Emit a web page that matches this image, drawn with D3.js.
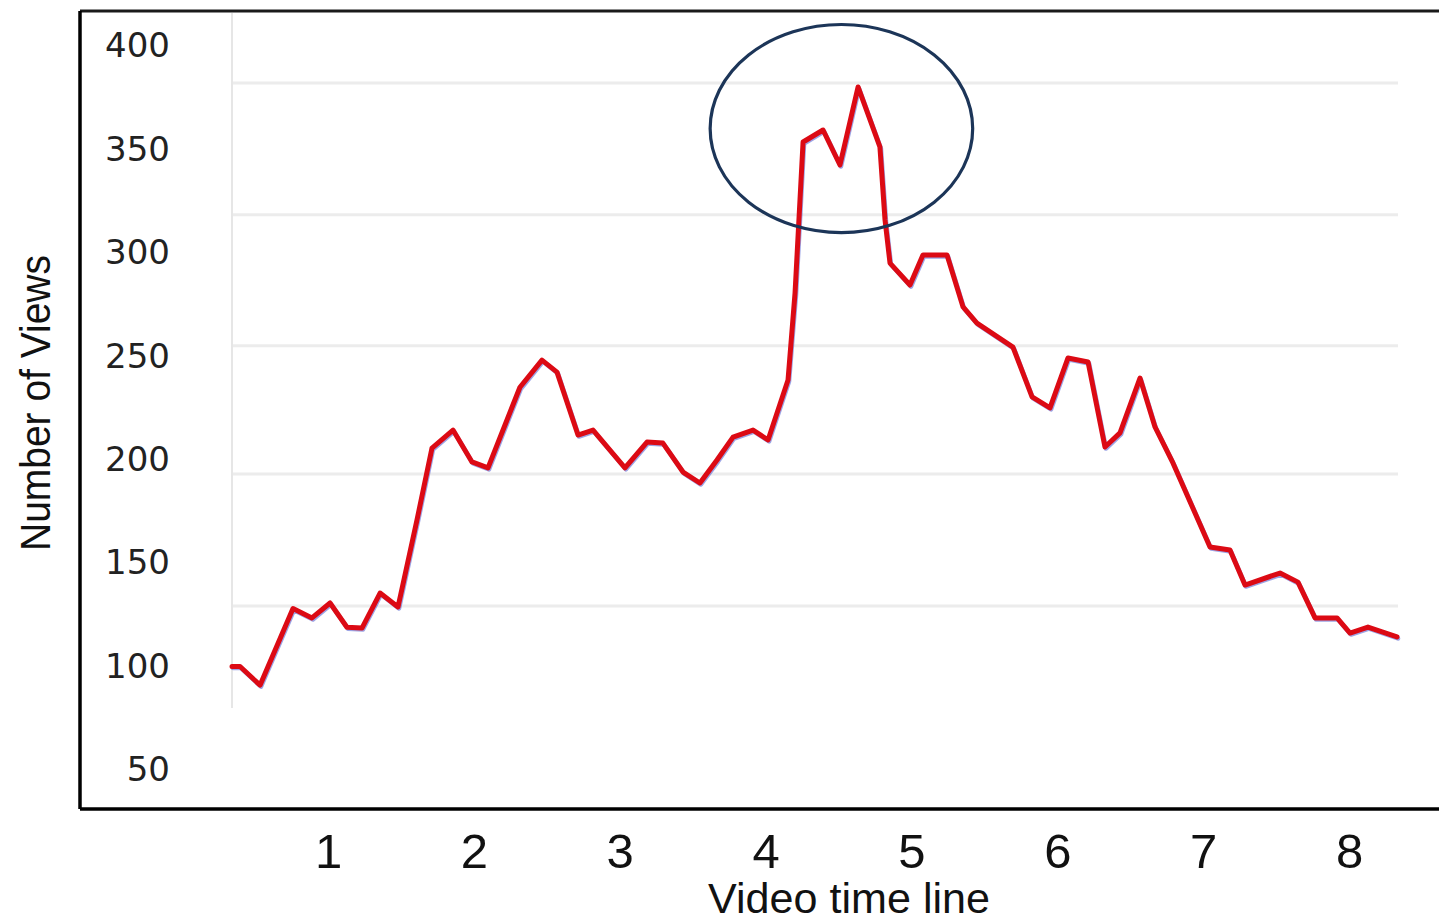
<!DOCTYPE html>
<html>
<head>
<meta charset="utf-8">
<script src="https://cdn.jsdelivr.net/npm/d3@7"></script>
<style>
  html, body { margin: 0; padding: 0; background: #fff; }
  svg { display: block; }
</style>
</head>
<body>
<svg id="chart" width="1439" height="923"></svg>
<script>
// ---- data ----
const timeValues = [0.342,0.397,0.534,0.760,0.890,1.014,1.130,1.233,1.357,1.480,1.610,1.713,1.857,1.987,2.097,2.316,2.467,2.570,2.714,2.817,3.036,3.187,3.296,3.434,3.550,3.667,3.777,3.914,4.017,4.154,4.202,4.257,4.394,4.510,4.634,4.784,4.819,4.853,4.990,5.079,5.244,5.354,5.449,5.696,5.827,5.950,6.073,6.211,6.327,6.430,6.567,6.670,6.793,7.047,7.184,7.287,7.527,7.650,7.767,7.918,8.007,8.130,8.329];
const viewValues = [100,100,91,128,123.5,130.7,119,118.6,135.5,128.8,170.8,205.6,214.3,198.9,196,235,248.1,242.3,211.9,214.3,196,208.5,208,194,188.7,199.8,210.9,214.3,209.5,238.5,280.5,353.5,359.3,342.4,380.1,351.1,315.8,295,284.4,298.9,298.9,273.8,266,254.4,230.3,225,249.1,247.2,206.1,212.9,239.4,215.8,198.4,157.8,156.3,139.4,145.2,140.8,123.5,123.5,116.2,119.1,114.3];
const yTickLabels = [50,100,150,200,250,300,350,400];
const xTickLabels = [1,2,3,4,5,6,7,8];
const gridValues = [382,318.3,255,193,129.3];
const highlight = { t: 4.52, v: 360, dt: 0.9, dv: 50.3 };
const xTitle = "Video time line";
const yTitle = "Number of Views";

// ---- layout ----
const svg = d3.select("#chart");
const x = d3.scaleLinear().domain([1, 8]).range([328, 1349]);
const y = d3.scaleLinear().domain([50, 400]).range([770, 45.8]);

const boxLeft = 80, boxTop = 11, boxBottom = 809, boxRight = 1439;
const plotLeft = x(0.342), plotRight = 1398;

// gridlines
svg.append("g").selectAll("line").data(gridValues).join("line")
  .attr("x1", plotLeft).attr("x2", plotRight)
  .attr("y1", d => y(d)).attr("y2", d => y(d))
  .attr("stroke", "#ececec").attr("stroke-width", 3);

// original inner axis line
svg.append("line")
  .attr("x1", plotLeft).attr("x2", plotLeft)
  .attr("y1", boxTop + 2).attr("y2", y(80))
  .attr("stroke", "#e6e6e6").attr("stroke-width", 2);

// frame
svg.append("line").attr("x1", boxLeft).attr("x2", boxRight).attr("y1", boxTop).attr("y2", boxTop)
  .attr("stroke", "#1a1a1a").attr("stroke-width", 3);
svg.append("line").attr("x1", boxLeft).attr("x2", boxLeft).attr("y1", boxTop).attr("y2", boxBottom)
  .attr("stroke", "#000").attr("stroke-width", 3.5);
svg.append("line").attr("x1", boxLeft).attr("x2", boxRight).attr("y1", boxBottom).attr("y2", boxBottom)
  .attr("stroke", "#000").attr("stroke-width", 3.5);

// y axis labels
const yAxis = d3.axisLeft(y).tickValues(yTickLabels).tickSize(0).tickPadding(0);
const gy = svg.append("g").attr("transform", "translate(170,0)").call(yAxis);
gy.select(".domain").remove();
gy.selectAll("text")
  .attr("font-family", "DejaVu Sans, Verdana, sans-serif")
  .attr("font-size", 34).attr("fill", "#222");

// x axis labels
const xAxis = d3.axisBottom(x).tickValues(xTickLabels).tickSize(0).tickPadding(0).tickFormat(d3.format("d"));
const gx = svg.append("g").attr("transform", "translate(0,832)").call(xAxis);
gx.select(".domain").remove();
gx.selectAll("text")
  .attr("dy", 0).attr("y", 36)
  .attr("font-family", "Liberation Sans, Arial, sans-serif")
  .attr("font-size", 49).attr("fill", "#111");

// line (blue shadow + red)
const line = d3.line().x((d, i) => x(timeValues[i])).y(d => y(d));
svg.append("path").datum(viewValues)
  .attr("d", line).attr("transform", "translate(1,1.5)")
  .attr("fill", "none").attr("stroke", "#4a5ad0").attr("stroke-opacity", 0.55)
  .attr("stroke-width", 4.5).attr("stroke-linejoin", "round").attr("stroke-linecap", "round");
svg.append("path").datum(viewValues)
  .attr("d", line)
  .attr("fill", "none").attr("stroke", "#dc0a14")
  .attr("stroke-width", 5).attr("stroke-linejoin", "round").attr("stroke-linecap", "round");

// highlight ellipse
svg.append("ellipse")
  .attr("cx", x(highlight.t)).attr("cy", y(highlight.v))
  .attr("rx", x(highlight.t + highlight.dt) - x(highlight.t))
  .attr("ry", y(highlight.v - highlight.dv) - y(highlight.v))
  .attr("fill", "none").attr("stroke", "#1c3558").attr("stroke-width", 3.2);

// titles
svg.append("text").text(xTitle)
  .attr("x", 849).attr("y", 913).attr("text-anchor", "middle")
  .attr("font-family", "Liberation Sans, Arial, sans-serif")
  .attr("font-size", 42).attr("fill", "#111")
  .attr("textLength", 282).attr("lengthAdjust", "spacingAndGlyphs");

svg.append("text").text(yTitle)
  .attr("transform", "translate(50,403) rotate(-90)")
  .attr("text-anchor", "middle")
  .attr("font-family", "Liberation Sans, Arial, sans-serif")
  .attr("font-size", 43).attr("fill", "#111")
  .attr("textLength", 296).attr("lengthAdjust", "spacingAndGlyphs");
</script>
</body>
</html>
